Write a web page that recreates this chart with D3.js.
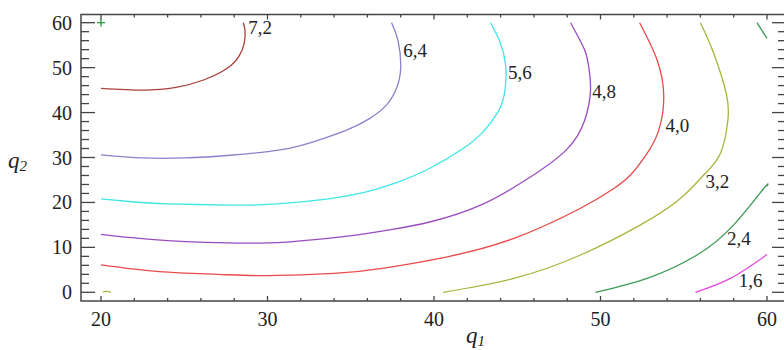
<!DOCTYPE html>
<html>
<head>
<meta charset="utf-8">
<script src="https://cdn.jsdelivr.net/npm/d3@7"></script>
<style>
  body { margin: 0; background: #fff; }
  svg { display: block; }
  text { font-family: "Liberation Serif", "Times New Roman", Times, "DejaVu Serif", serif; fill: #222; }
  .tick-label { font-size: 20px; }
  .level-label { font-size: 19px; }
  .axis-title { font-style: italic; font-size: 23px; }
</style>
</head>
<body>
<svg id="chart"></svg>
<script>
// contour levels (labels use a decimal comma)
let levels = [7.2, 6.4, 5.6, 4.8, 4.0, 3.2, 2.4, 1.6];

// each contour as [q1, q2] points
let contour72 = [[20,45.4],[22.5,45.0],[24.5,45.6],[26.2,47.3],[27.6,49.9],[28.3,52.6],[28.6,55.4],[28.65,58.2],[28.55,60]];
let contour64 = [[20,30.6],[22.5,29.9],[25,29.9],[27.75,30.5],[30.75,31.7],[32.75,33.5],[34.75,36.1],[36.15,38.7],[37.15,41.7],[37.75,45.4],[38,49.9],[37.85,55.8],[37.45,60]];
let contour56 = [[20,20.8],[22,20.1],[24,19.7],[27.75,19.4],[29.75,19.5],[32.75,20.4],[35.75,22.2],[37.75,24.4],[39.75,27.6],[41.75,32.0],[42.95,35.7],[43.85,40.2],[44.25,44.6],[44.3,50.6],[43.95,55.8],[43.4,60]];
let contour48 = [[20,12.9],[22,12.1],[24,11.5],[26.3,11.1],[30,11.0],[33,11.8],[35.4,12.8],[37.5,14.0],[39.8,15.7],[42.8,19.4],[45.6,25.2],[47.95,31.7],[49.05,38.3],[49.4,45.0],[49.3,50],[49.05,53.9],[48.2,60]];
let contour40 = [[20,6.1],[23.5,4.6],[27,4.0],[30,3.7],[34,4.2],[37,5.4],[40.8,7.9],[44.8,12.0],[48.8,18.7],[50.8,23.1],[51.8,26.1],[52.8,30.9],[53.5,36.1],[53.8,43.5],[53.4,51.7],[52.35,60]];
let contour32 = [[40.55,0],[44.8,3.1],[48.8,8.3],[52.4,15.0],[54.8,20.9],[56.2,26.1],[57.2,30.9],[57.65,38.3],[57.55,44.3],[56.8,53.2],[56,60]];
let contour32b = [[20.1,0.1],[20.35,0.2],[20.6,0.0]];
let contour24 = [[49.7,0],[52.8,3.1],[55.8,8.3],[58,15.0],[59.8,23.1],[60,23.6]];
let contour24b = [[59.4,60],[60,56.5]];
let contour16 = [[55.7,0],[57.8,3.1],[60,8.4]];

// where each level label sits (left edge, baseline) in q1/q2 units
let labelAnchors = [[28.85,57.5],[38.15,52.4],[44.45,47.5],[49.5,43.2],[53.9,35.7],[56.3,23.2],[57.6,10.5],[58.3,1.2]];

// axis ticks
let xMajor = [20, 30, 40, 50, 60];
let yMajor = [0, 10, 20, 30, 40, 50, 60];
let xMinor = d3.range(20, 61, 2);
let yMinor = d3.range(0, 61, 2);

// start marker at the corner of the grid
let marker = [20, 60];

let colors = ["#a8403c", "#8a80cc", "#3ee6e6", "#9a4cc0", "#ea4a4a", "#aab43c", "#3a9a56", "#e44ae0"];
let segments = [
  [contour72], [contour64], [contour56], [contour48], [contour40],
  [contour32, contour32b], [contour24, contour24b], [contour16]
];

let width = 784, height = 350;
let frame = {left: 81, right: 786, top: 14.5, bottom: 301};

let svg = d3.select("#chart")
    .attr("width", width)
    .attr("height", height);

let xScale = d3.scaleLinear()
    .domain([20, 60])
    .range([101, 767]);
let yScale = d3.scaleLinear()
    .domain([0, 60])
    .range([292.3, 22.7]);

let line = d3.line()
    .x(function(d) { return xScale(d[0]); })
    .y(function(d) { return yScale(d[1]); })
    .curve(d3.curveNatural);

// contour lines
segments.forEach(function(segs, i) {
  svg.selectAll(".c" + i)
      .data(segs)
    .enter().append("path")
      .attr("class", "c" + i)
      .attr("d", line)
      .attr("fill", "none")
      .attr("stroke", colors[i])
      .attr("stroke-width", 1.3);
});

// level labels
svg.selectAll(".level-label")
    .data(levels)
  .enter().append("text")
    .attr("class", "level-label")
    .attr("x", function(d, i) { return xScale(labelAnchors[i][0]); })
    .attr("y", function(d, i) { return yScale(labelAnchors[i][1]); })
    .text(function(d) { return d3.format(".1f")(d).replace(".", ","); });

// green start marker
let mk = svg.append("g")
    .attr("transform", "translate(" + xScale(marker[0]) + "," + yScale(marker[1]) + ")")
    .attr("stroke", "#2f9a3a")
    .attr("stroke-width", 1.3);
mk.append("line").attr("x1", -4).attr("x2", 4);
mk.append("line").attr("y1", -4).attr("y2", 4);

// frame
svg.append("rect")
    .attr("x", frame.left)
    .attr("y", frame.top)
    .attr("width", frame.right - frame.left)
    .attr("height", frame.bottom - frame.top)
    .attr("fill", "none")
    .attr("stroke", "#444")
    .attr("stroke-width", 1.5);

let ticks = svg.append("g").attr("stroke", "#444").attr("stroke-width", 1.3);

// left and right ticks, pointing inward
[[frame.left, 1], [frame.right, -1]].forEach(function(side) {
  ticks.selectAll(null)
      .data(yMinor)
    .enter().append("line")
      .attr("x1", side[0])
      .attr("x2", function(d) { return side[0] + side[1] * (d % 10 === 0 ? 14 : 8); })
      .attr("y1", function(d) { return yScale(d); })
      .attr("y2", function(d) { return yScale(d); });
});

// bottom and top ticks, pointing inward
[[frame.bottom, -1], [frame.top, 1]].forEach(function(side) {
  ticks.selectAll(null)
      .data(xMinor)
    .enter().append("line")
      .attr("y1", side[0])
      .attr("y2", function(d) { return side[0] + side[1] * (d % 10 === 0 ? 5 : 3); })
      .attr("x1", function(d) { return xScale(d); })
      .attr("x2", function(d) { return xScale(d); });
});

// tick labels
svg.selectAll(".ytl")
    .data(yMajor)
  .enter().append("text")
    .attr("class", "tick-label ytl")
    .attr("x", 72)
    .attr("y", function(d) { return yScale(d) + 7; })
    .style("text-anchor", "end")
    .text(function(d) { return d; });

svg.selectAll(".xtl")
    .data(xMajor)
  .enter().append("text")
    .attr("class", "tick-label xtl")
    .attr("x", function(d) { return xScale(d); })
    .attr("y", 326)
    .style("text-anchor", "middle")
    .text(function(d) { return d; });

// axis titles
let xt = svg.append("text")
    .attr("class", "axis-title")
    .attr("x", 466)
    .attr("y", 343);
xt.append("tspan").text("q");
xt.append("tspan").attr("dy", 3).style("font-size", "15px").text("1");

let yt = svg.append("text")
    .attr("class", "axis-title")
    .attr("x", 8)
    .attr("y", 168);
yt.append("tspan").text("q");
yt.append("tspan").attr("dy", 3).style("font-size", "15px").text("2");
</script>
</body>
</html>
